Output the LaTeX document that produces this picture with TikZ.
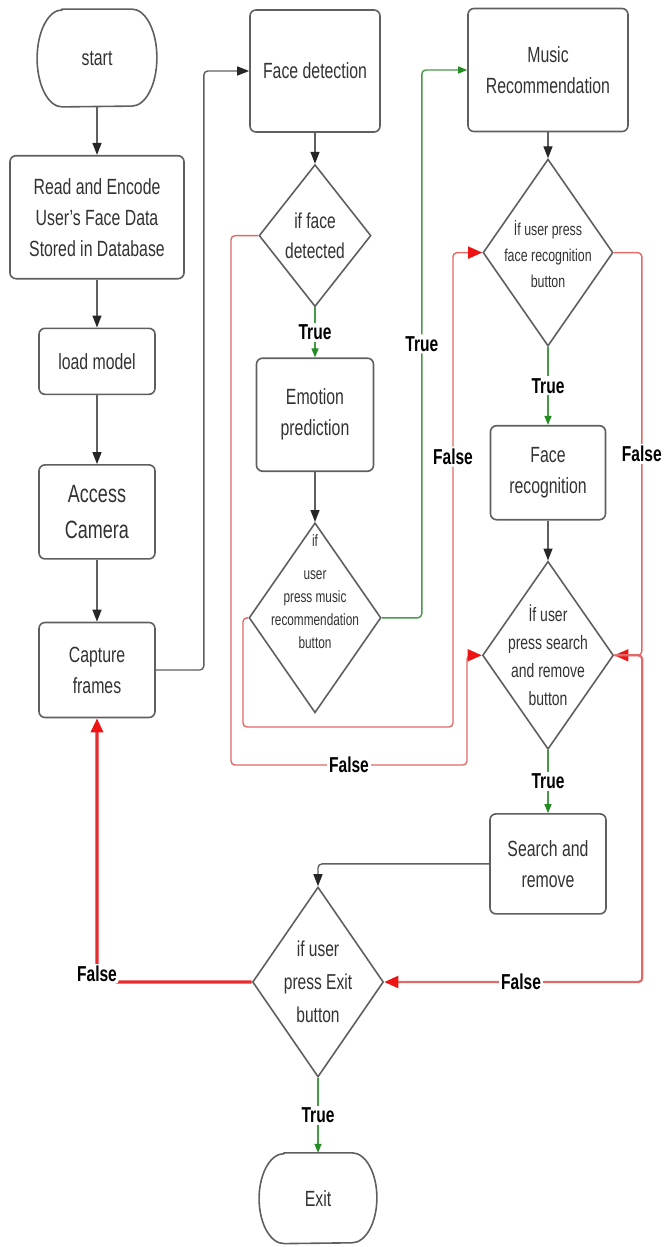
\documentclass[tikz,border=0pt]{standalone}
\usepackage{fontspec}
\setmainfont{Liberation Sans}[FakeStretch=0.72]
\usepackage{tikz}
\usetikzlibrary{positioning}
\usetikzlibrary{arrows.meta}
\usetikzlibrary{shapes.geometric}
\definecolor{linegray}{RGB}{95,95,95}
\definecolor{textgray}{RGB}{50,50,50}
\definecolor{falsered}{RGB}{224,105,105}
\definecolor{exitred}{RGB}{230,45,45}
\definecolor{tipred}{RGB}{238,20,20}
\definecolor{truegreen}{RGB}{70,155,70}
\definecolor{tipgreen}{RGB}{35,140,35}
\tikzstyle{process} = [rectangle, rounded corners=3pt,
    draw=linegray,
    line width=0.8pt,
    align=center,
    inner sep=0pt,
    text=textgray,
    font=\fontsize{11}{15.5}\selectfont]
\tikzstyle{terminal} = [rectangle, inner sep=0pt,
    text=textgray,
    font=\fontsize{11}{15.5}\selectfont]
\tikzstyle{outline} = [draw=linegray, line width=0.8pt]
\tikzstyle{decision} = [diamond, draw=linegray, line width=0.8pt, inner sep=0pt]
\tikzstyle{dtext} = [align=center, inner sep=0pt, text=textgray]
\tikzstyle{lbl} = [fill=white, inner sep=1pt, text=black,
    font=\fontsize{10.8}{12}\selectfont\bfseries]
\tikzstyle{arrow} = [line width=0.7pt, draw=linegray, rounded corners=2pt,
    -{Triangle[length=6pt,width=4.5pt,color=black!85]}]
\tikzstyle{yes} = [line width=0.7pt, draw=truegreen,
    -{Triangle[length=4.5pt,width=3.5pt,color=tipgreen]}]
\tikzstyle{no} = [line width=0.7pt, draw=falsered, rounded corners=2pt,
    -{Triangle[length=7pt,width=6pt,color=tipred]}]
% outline of a start/end node: flat top and bottom, half-ellipse sides
\newcommand{\termoutline}[2]{%
  \draw [outline] ([xshift=12.5pt]#1.north west) -- ([xshift=-12.5pt]#1.north east)
    arc[start angle=90, end angle=-90, x radius=12.5pt, y radius=#2]
    -- ([xshift=12.5pt]#1.south west)
    arc[start angle=270, end angle=90, x radius=12.5pt, y radius=#2] -- cycle;}

\begin{document}
\begin{tikzpicture}[x=0.5pt, y=-0.5pt]
\useasboundingbox (0,0) rectangle (664,1247);

% left column
\node (start) [terminal, minimum width=59.5pt, minimum height=48.5pt] at (97,58) {start};
\termoutline{start}{24.25pt}
\node (read) [process, minimum width=87pt, minimum height=61.5pt, below=24pt of start] {Read and Encode\\User's Face Data\\Stored in Database};
\node (load) [process, minimum width=58pt, minimum height=33pt, below=24pt of read] {load model};
\node (access) [process, minimum width=58pt, minimum height=47pt, below=34.5pt of load, font=\fontsize{12.5}{18}\selectfont] {Access\\Camera};
\node (capture) [process, minimum width=58pt, minimum height=47.5pt, below=31pt of access] {Capture\\frames};

% middle column
\node (facedet) [process, minimum width=65pt, minimum height=61pt] at (315,71) {Face detection};
\node (ifface) [decision, minimum width=56pt, minimum height=71pt, below=15.5pt of facedet] {};
\node (iffacetext) [dtext, font=\fontsize{10.8}{15}\selectfont] at (ifface) {if face\\detected};
\node (emotion) [process, minimum width=58.5pt, minimum height=56.5pt, below=25pt of ifface] {Emotion\\prediction};
\node (ifmusic) [decision, minimum width=66pt, minimum height=95pt, below=25pt of emotion] {};
\node (ifmusictext) [dtext, font=\fontsize{8.2}{11.5}\selectfont] at ([yshift=13pt]ifmusic.center) {if\\[5pt]user\\press music\\recommendation\\button};

% right column
\node (musicrec) [process, minimum width=80pt, minimum height=61.5pt] at (548,70) {Music\\Recommendation};
\node (iffacerec) [decision, minimum width=65pt, minimum height=93.5pt, below=13pt of musicrec] {};
\node (iffacerectext) [dtext, font=\fontsize{8.6}{13}\selectfont] at ([yshift=-1pt]iffacerec.center) {İf user press\\face recognition\\button};
\node (facerec) [process, minimum width=57.5pt, minimum height=47pt, below=39pt of iffacerec] {Face\\recognition};
\node (ifsearch) [decision, minimum width=65.5pt, minimum height=94pt, below=20pt of facerec] {};
\node (ifsearchtext) [dtext, font=\fontsize{9.7}{14}\selectfont] at (ifsearch) {İf user\\press search\\and remove\\button};
\node (search) [process, minimum width=58pt, minimum height=50pt, below=31.5pt of ifsearch] {Search and\\remove};

% bottom
\node (ifexit) [decision, minimum width=65.5pt, minimum height=95pt] at (318,982) {};
\node (ifexittext) [dtext, font=\fontsize{10.8}{16.5}\selectfont] at (ifexit) {if user\\press Exit\\button};
\node (exit) [terminal, minimum width=58.5pt, minimum height=45pt, below=37.5pt of ifexit] {Exit};
\termoutline{exit}{22.5pt}

% straight arrows
\draw [arrow] (start) -- (read);
\draw [arrow] (read) -- (load);
\draw [arrow] (load) -- (access);
\draw [arrow] (access) -- (capture);
\draw [arrow] (facedet) -- (ifface);
\draw [arrow] (emotion) -- (ifmusic);
\draw [arrow] (musicrec) -- (iffacerec);
\draw [arrow] (facerec) -- (ifsearch);
\draw [arrow] (capture.east) -- ++(48,0) |- (facedet.west);
\draw [arrow] (search.west) -| (ifexit.north);

% true branches
\draw [yes] (ifface.south) -- node[lbl] {True} (emotion.north);
\draw [yes] (iffacerec.south) -- node[lbl] {True} (facerec.north);
\draw [yes] (ifsearch.south) -- node[lbl] {True} (search.north);
\draw [yes] (ifexit.south) -- node[lbl] {True} (exit.north);
\draw [yes, rounded corners=2pt] (ifmusic.east) -- ++(40,0) |- node[lbl, pos=0.25] {True} (musicrec.west);

% false branches
\draw [no] (ifface.west) -| (231,765) -- node[lbl] {False} (467,765) |- (ifsearch.west);
\draw [no] (ifmusic.west) -| (243,727) -- (453,727) |- node[lbl, pos=0.285] {False} (iffacerec.west);
\draw [no] (iffacerec.east) -- ++(28,0) |- node[lbl, pos=0.25] {False} (ifsearch.east);
\draw [no, line width=1.1pt] (ifsearch.east) -- ++(28,0) |- node[lbl, pos=0.735] {False} (ifexit.east);
\draw [no, draw=exitred, line width=1.6pt] (ifexit.west) -| node[lbl, pos=0.5, yshift=4pt] {False} (capture.south);

\end{tikzpicture}
\end{document}
